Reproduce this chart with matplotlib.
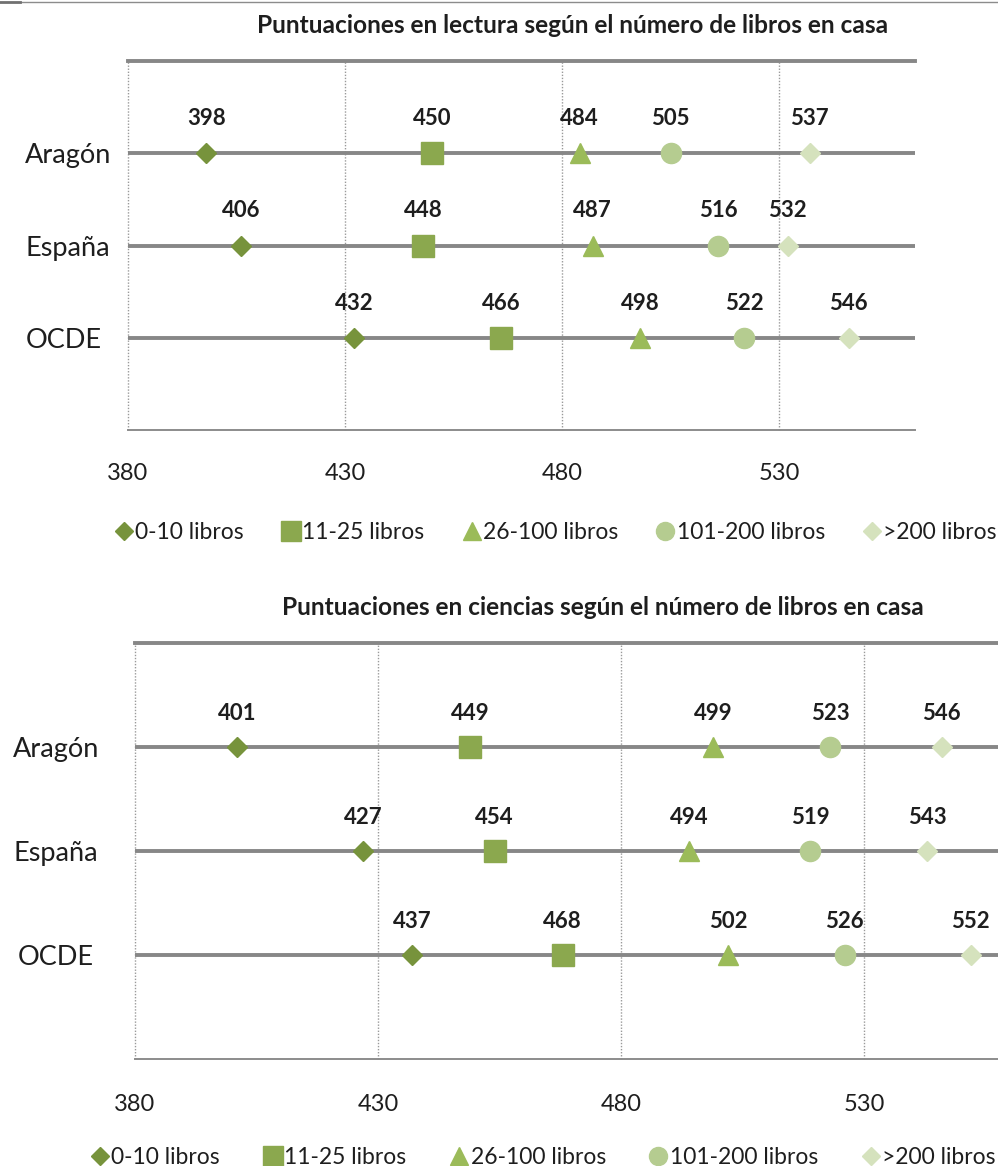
import matplotlib
matplotlib.use("Agg")
import matplotlib.pyplot as plt
from matplotlib.lines import Line2D

plt.rcParams["font.family"] = ["Lato", "DejaVu Sans"]

regions = ["Aragón", "España", "OCDE"]
book_groups = ["0-10 libros", "11-25 libros", "26-100 libros", "101-200 libros", ">200 libros"]

# scores per region, one value per book group
reading_scores = {
    "Aragón": [398, 450, 484, 505, 537],
    "España": [406, 448, 487, 516, 532],
    "OCDE": [432, 466, 498, 522, 546],
}
science_scores = {
    "Aragón": [401, 449, 499, 523, 546],
    "España": [427, 454, 494, 519, 543],
    "OCDE": [437, 468, 502, 526, 552],
}
x_ticks = [380, 430, 480, 530]

markers = ["D", "s", "^", "o", "D"]
marker_sizes = [10.5, 15.5, 15, 14.5, 10.5]
colors = ["#77933C", "#8BA84E", "#9BBB59", "#B5CC90", "#D5E2BD"]
line_grey = "#878787"
text_col = "#1e1e1e"


def draw_panel(ax, title, title_x, scores, xmax, label_pad, ylabel_ha, ylabel_pad, tick_pad):
    ypos = {r: 3 - i for i, r in enumerate(regions)}
    ax.set_xlim(380, xmax)
    ax.set_ylim(0, 4)

    # dotted vertical guides, including the left edge
    for xv in x_ticks:
        ax.axvline(xv, color="#9a9a9a", lw=1.0, ls=(0, (1, 1.2)), zorder=1, clip_on=False)

    for r in regions:
        ax.axhline(ypos[r], color=line_grey, lw=2.8, zorder=2)
        for j, val in enumerate(scores[r]):
            ax.plot(val, ypos[r], marker=markers[j], ms=marker_sizes[j],
                    color=colors[j], mec=colors[j], ls="none", zorder=3)
            ax.annotate(str(val), (val, ypos[r]), xytext=(0, label_pad),
                        textcoords="offset points", ha="center", va="center",
                        fontsize=16, fontweight="bold", color=text_col)

    ax.set_xticks(x_ticks)
    ax.tick_params(axis="x", length=0, pad=tick_pad, labelsize=17, labelcolor=text_col)
    ax.set_yticks([ypos[r] for r in regions])
    ax.set_yticklabels(regions, ha=ylabel_ha)
    ax.tick_params(axis="y", length=0, pad=ylabel_pad, labelsize=19.5, labelcolor=text_col)

    ax.spines["right"].set_visible(False)
    ax.spines["left"].set_visible(False)
    ax.spines["top"].set_color(line_grey)
    ax.spines["top"].set_linewidth(2.8)
    ax.spines["bottom"].set_color("#8c8c8c")
    ax.spines["bottom"].set_linewidth(1.4)
    ax.set_title(title, x=title_x, fontsize=17.6, fontweight="bold", color=text_col, pad=20)


fig = plt.figure(figsize=(9.98, 11.66), dpi=100)

ax1 = fig.add_axes([0.1283, 0.6312, 0.7886, 0.3165])
draw_panel(ax1, "Puntuaciones en lectura según el número de libros en casa", 0.565,
           reading_scores, 561.3, 25, "left", 74, 24)

ax2 = fig.add_axes([0.1353, 0.0918, 0.9008, 0.3568])
draw_panel(ax2, "Puntuaciones en ciencias según el número de libros en casa", 0.52,
           science_scores, 565, 24, "center", 57, 25.5)

handles = [Line2D([], [], marker=markers[j], ms=marker_sizes[j] - 1.5, color=colors[j],
                  mec=colors[j], ls="none") for j in range(len(book_groups))]
for anchor, spacing in [((0.115, 0.5437), 1.65), ((0.091, 0.0075), 1.9)]:
    fig.legend(handles, book_groups, loc="center left", bbox_to_anchor=anchor,
               ncol=5, frameon=False, fontsize=16.5, handlelength=0.8,
               handletextpad=0.1, columnspacing=spacing, borderpad=0, borderaxespad=0,
               labelcolor=text_col)

# thin rule along the top edge
fig.add_artist(Line2D([0.02, 1.0], [0.9985, 0.9985], color="#8c8c8c", lw=1.0))
fig.add_artist(Line2D([0.0, 0.02], [0.9985, 0.9985], color="#707070", lw=2.0))

fig.savefig("out.png", dpi=100)
